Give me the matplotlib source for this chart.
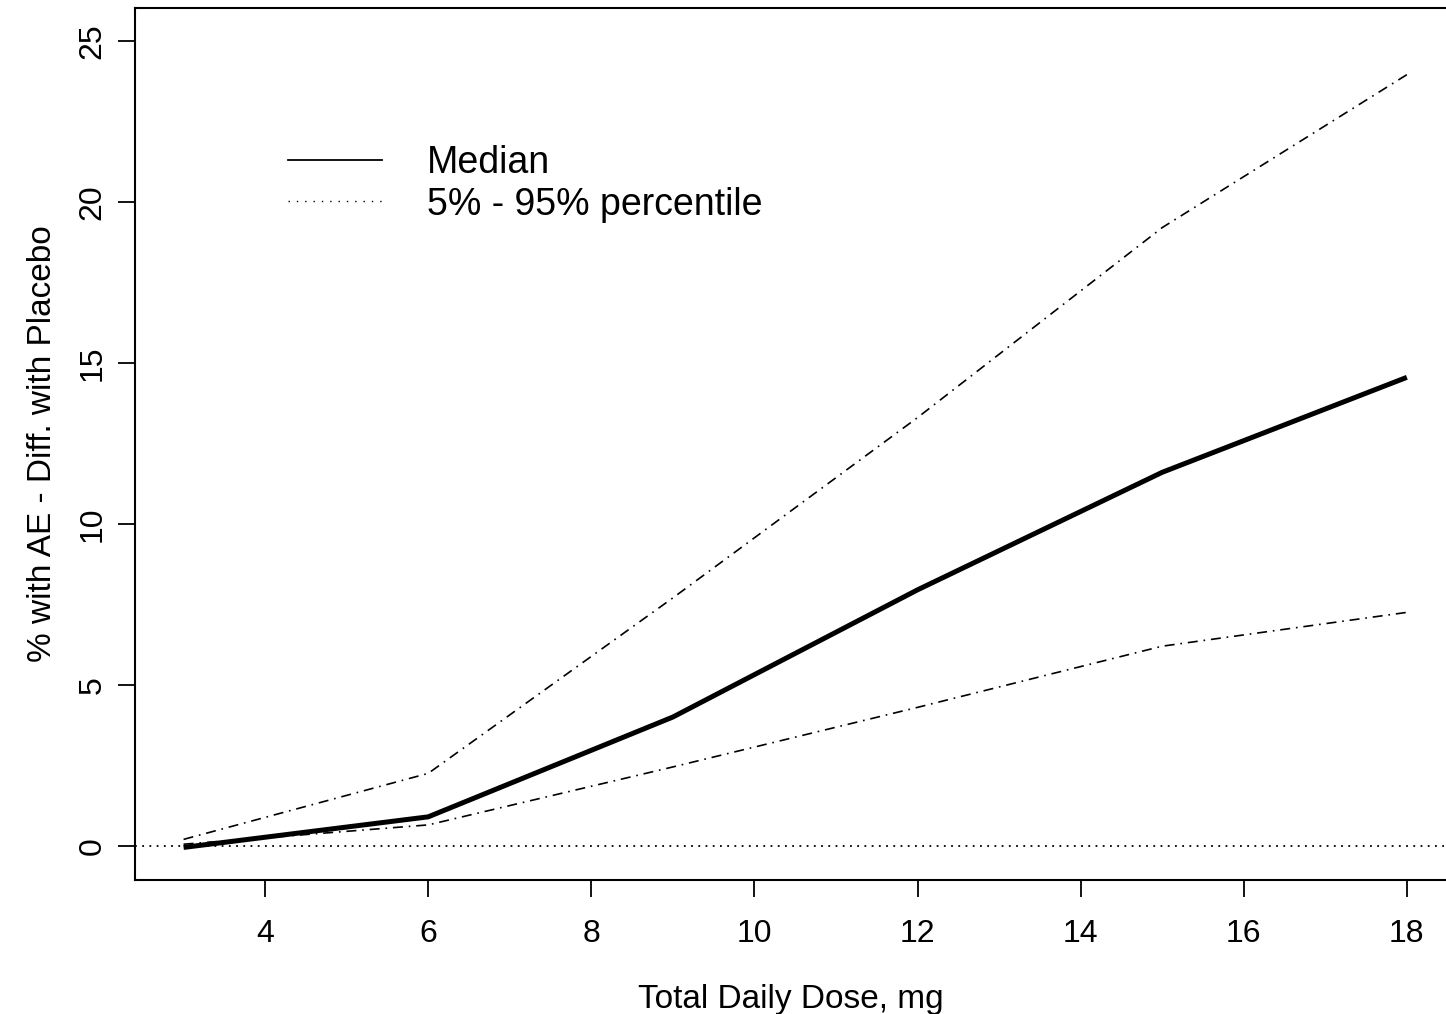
import matplotlib.pyplot as plt
from matplotlib.lines import Line2D

plt.rcParams['font.family'] = ['Liberation Sans', 'DejaVu Sans']

dose = [3, 6, 9, 12, 15, 18]
median = [-0.05, 0.9, 4.0, 7.95, 11.6, 14.55]
upper = [0.2, 2.25, 7.7, 13.3, 19.2, 23.95]
lower = [0.05, 0.65, 2.45, 4.3, 6.2, 7.25]

x_ticks = [4, 6, 8, 10, 12, 14, 16, 18]
y_ticks = [0, 5, 10, 15, 20, 25]

fig = plt.figure(figsize=(14.46, 10.14), dpi=100)
ax = fig.add_axes([0.0934, 0.1322, 0.9066, 0.8599])

dotdash = (0, (6, 3.5, 1, 3.5))
ax.axhline(0, color='black', lw=1.3, linestyle=(0, (1, 3)))
ax.plot(dose, upper, color='black', lw=1.2, linestyle=dotdash)
ax.plot(dose, lower, color='black', lw=1.2, linestyle=dotdash)
ax.plot(dose, median, color='black', lw=3.6, solid_capstyle='butt')

ax.set_xlim(2.405, 18.48)
ax.set_ylim(-1.06, 26.02)
ax.set_xticks(x_ticks)
ax.set_yticks(y_ticks)
ax.tick_params(axis='both', direction='out', length=12, width=1.3, labelsize=23)
ax.tick_params(axis='x', pad=16)
ax.tick_params(axis='y', pad=8)
for lab in ax.get_yticklabels():
    lab.set_rotation(90)
    lab.set_va('center')

for side in ['left', 'bottom', 'top']:
    ax.spines[side].set_linewidth(1.5)
ax.spines['right'].set_visible(False)

ax.set_xlabel('Total Daily Dose, mg', fontsize=24, labelpad=25)
ax.set_ylabel('% with AE - Diff. with Placebo', fontsize=24, labelpad=14)

handles = [Line2D([], [], color='black', lw=1.3),
           Line2D([], [], color='black', lw=1.0, linestyle=(0, (1, 5)))]
ax.legend(handles, ['Median', '5% - 95% percentile'], loc='upper left',
          bbox_to_anchor=(0.1167, 0.843), frameon=False, fontsize=27,
          handlelength=2.5, handletextpad=1.2, labelspacing=0.15,
          borderaxespad=0, borderpad=0)

fig.savefig('out.png', dpi=100)
